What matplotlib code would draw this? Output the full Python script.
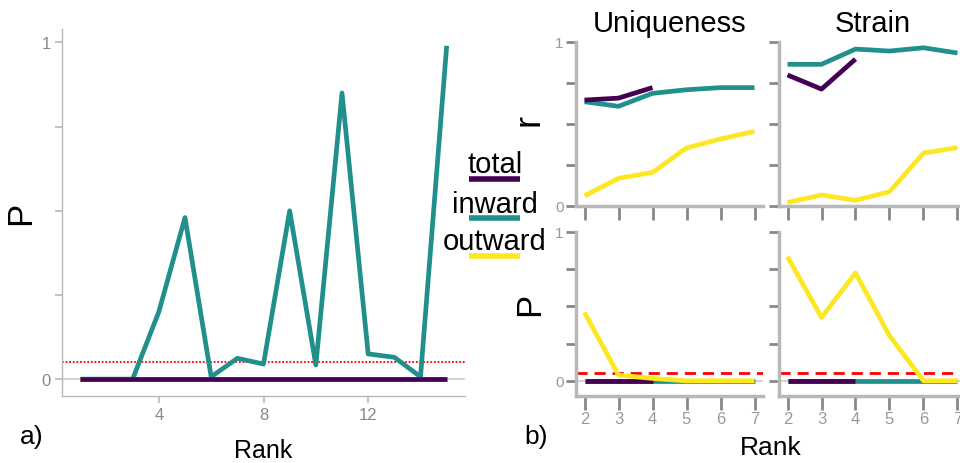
import matplotlib
matplotlib.use("Agg")
import matplotlib.pyplot as plt
from matplotlib.lines import Line2D
import numpy as np

plt.rcParams['font.family'] = ['Liberation Sans', 'DejaVu Sans']

# panel a) P per rank
rank_a = np.arange(1, 16)
p_total_a = [0] * 15
p_outward_a = [0] * 15
p_inward_a = [0, 0, 0, 0.20, 0.48, 0.007, 0.062, 0.045, 0.50, 0.042,
              0.85, 0.075, 0.065, 0.007, 0.99]

# panel b) per facet
facets = ["Uniqueness", "Strain"]
rank_b = [2, 3, 4, 5, 6, 7]
r_total = {"Uniqueness": [0.644, 0.656, 0.72], "Strain": [0.797, 0.711, 0.894]}
r_inward = {"Uniqueness": [0.634, 0.606, 0.685, 0.707, 0.72, 0.72],
            "Strain": [0.862, 0.862, 0.955, 0.943, 0.963, 0.931]}
r_outward = {"Uniqueness": [0.06, 0.167, 0.203, 0.352, 0.407, 0.453],
             "Strain": [0.02, 0.065, 0.033, 0.085, 0.321, 0.354]}
p_total = {"Uniqueness": [0, 0, 0], "Strain": [0, 0, 0]}
p_inward = {"Uniqueness": [0, 0, 0, 0, 0, 0], "Strain": [0, 0, 0, 0, 0, 0]}
p_outward = {"Uniqueness": [0.459, 0.038, 0.016, 0, 0, 0],
             "Strain": [0.832, 0.425, 0.723, 0.302, 0, 0]}
threshold = 0.05

series = ["total", "inward", "outward"]
colors = {"total": "#440154", "inward": "#21908C", "outward": "#FDE725"}

W, H = 960, 464
fig = plt.figure(figsize=(W / 100, H / 100), dpi=100)


def px_axes(x0, y0, x1, y1):
    return fig.add_axes([x0 / W, 1 - y1 / H, (x1 - x0) / W, (y1 - y0) / H])


grey = "#b8b8b8"
tickc = "#888888"
LW = 3.4

# ---- panel a
ax = px_axes(62, 30, 465, 397)
ax.axhline(0, color="#d4d4d4", lw=1.5, zorder=1)
ax.axhline(threshold, color="red", lw=1.3, ls=(0, (1, 1)), zorder=1)
ax.plot(rank_a, p_inward_a, color=colors["inward"], lw=LW, solid_capstyle="butt", zorder=3)
ax.plot(rank_a, p_outward_a, color=colors["outward"], lw=LW, solid_capstyle="butt", zorder=3)
ax.plot(rank_a, p_total_a, color=colors["total"], lw=LW, solid_capstyle="butt", zorder=3)
ax.set_xlim(0.3, 15.7)
ax.set_ylim(-0.05, 1.04)
ax.set_xticks([4, 8, 12])
ax.set_yticks([0, 0.25, 0.5, 0.75, 1])
ax.set_yticklabels(["0", "", "", "", "1"])
for s in ["top", "right"]:
    ax.spines[s].set_visible(False)
for s in ["left", "bottom"]:
    ax.spines[s].set_color(grey)
    ax.spines[s].set_linewidth(1)
ax.tick_params(colors=grey, labelcolor=tickc, labelsize=12, length=5, width=1.2, pad=3)
ax.set_xlabel("Rank", fontsize=18)
ax.xaxis.set_label_coords(0.5, -0.115)
ax.set_ylabel("P", fontsize=25)
ax.yaxis.set_label_coords(-0.062, 0.5)
fig.text(32 / W, 1 - 437 / H, "a)", fontsize=19, ha="center", va="center")

# ---- panel b
cols = [(576, 763), (779, 966)]
rows = [(42.7, 206.7), (232.7, 396.7)]
for j, f in enumerate(facets):
    x0, x1 = cols[j]
    # r row
    ax = px_axes(x0, rows[0][0], x1, rows[0][1])
    ax.plot(rank_b, r_inward[f], color=colors["inward"], lw=LW, solid_capstyle="butt")
    ax.plot(rank_b, r_outward[f], color=colors["outward"], lw=LW, solid_capstyle="butt")
    ax.plot(rank_b[:len(r_total[f])], r_total[f], color=colors["total"], lw=LW,
            solid_capstyle="butt")
    ax.set_ylim(0, 1)
    ax.set_xlim(1.75, 7.25)
    ax.set_xticks(rank_b)
    ax.set_xticklabels([])
    ax.set_yticks([0, 0.25, 0.5, 0.75, 1])
    ax.set_yticklabels(["0", "", "", "", "1"] if j == 0 else [])
    ax.tick_params(axis="x", length=10, width=2, colors=tickc)
    ax.tick_params(axis="y", length=7, width=2, colors=tickc, labelcolor="#999999",
                   labelsize=11, pad=2)
    for s in ["top", "right"]:
        ax.spines[s].set_visible(False)
    for s in ["left", "bottom"]:
        ax.spines[s].set_color(grey)
        ax.spines[s].set_linewidth(2.5)
    ax.set_title(f, fontsize=21, y=1.065, pad=0)
    if j == 0:
        ax.set_ylabel("r", fontsize=26)
        ax.yaxis.set_label_coords(-0.16, 0.53)

    # P row
    ax = px_axes(x0, rows[1][0], x1, rows[1][1])
    ax.axhline(0, color="#d4d4d4", lw=1.5, zorder=1)
    ax.axhline(threshold, color="red", lw=2, ls=(0, (4, 2.5)), zorder=1)
    ax.plot(rank_b, p_inward[f], color=colors["inward"], lw=LW, solid_capstyle="butt", zorder=3)
    ax.plot(rank_b[:len(p_total[f])], p_total[f], color=colors["total"], lw=LW,
            solid_capstyle="butt", zorder=3)
    ax.plot(rank_b, p_outward[f], color=colors["outward"], lw=LW, solid_capstyle="butt", zorder=3)
    ax.set_ylim(-0.1, 1)
    ax.set_xlim(1.75, 7.25)
    ax.set_xticks(rank_b)
    ax.set_yticks([0, 0.25, 0.5, 0.75, 1])
    ax.set_yticklabels(["0", "", "", "", "1"] if j == 0 else [])
    ax.tick_params(axis="x", length=10, width=2, colors=tickc, labelcolor="#999999",
                   labelsize=12, pad=1)
    ax.tick_params(axis="y", length=7, width=2, colors=tickc, labelcolor="#999999",
                   labelsize=11, pad=2)
    for s in ["top", "right"]:
        ax.spines[s].set_visible(False)
    for s in ["left", "bottom"]:
        ax.spines[s].set_color(grey)
        ax.spines[s].set_linewidth(2.5)
    if j == 0:
        ax.set_ylabel("P", fontsize=25)
        ax.yaxis.set_label_coords(-0.16, 0.56)

fig.text(771 / W, 1 - 448 / H, "Rank", fontsize=19, ha="center", va="center")
fig.text(536 / W, 1 - 437 / H, "b)", fontsize=19, ha="center", va="center")

# legend: label above key
leg_y = [(165, 180), (205, 219), (242, 257)]
for name, (ty, ky) in zip(series, leg_y):
    fig.text(495 / W, 1 - ty / H, name, fontsize=21, ha="center", va="center")
    fig.add_artist(Line2D([469 / W, 520 / W], [1 - ky / H, 1 - ky / H],
                          color=colors[name], lw=4, solid_capstyle="butt"))

fig.savefig("out.png", dpi=100)
